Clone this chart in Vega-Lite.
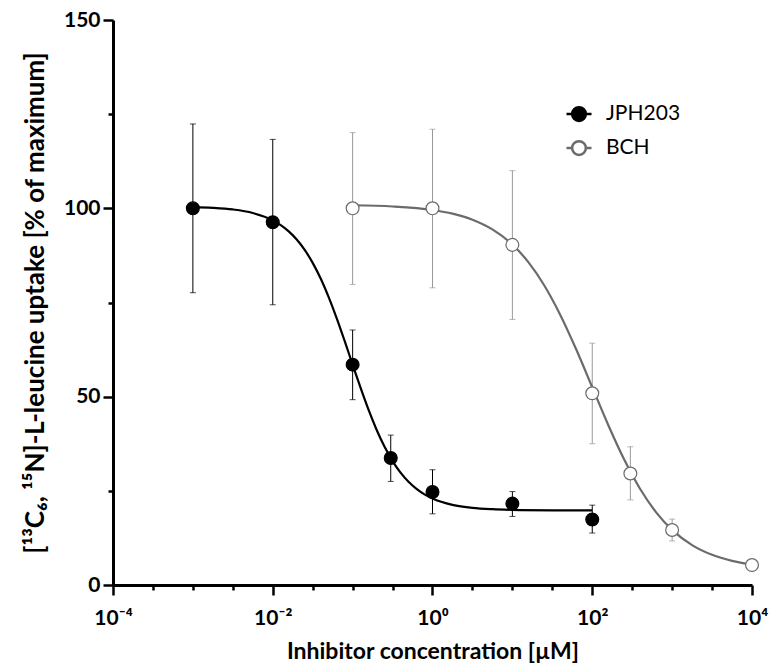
{
  "$schema": "https://vega.github.io/schema/vega-lite/v6.json",
  "width": 639,
  "height": 565,
  "autosize": "none",
  "padding": {"left": 113, "top": 20, "right": 19, "bottom": 83},
  "background": "white",
  "config": {"view": {"stroke": null}, "font": "Lato"},
  "datasets": {
    "pts": [
      {"series": "JPH203", "x": 0.001, "y": 100, "lo": 77.6, "hi": 122.4},
      {"series": "JPH203", "x": 0.01, "y": 96.3, "lo": 74.4, "hi": 118.3},
      {"series": "JPH203", "x": 0.1, "y": 58.5, "lo": 49.2, "hi": 67.7},
      {"series": "JPH203", "x": 0.3, "y": 33.7, "lo": 27.5, "hi": 39.8},
      {"series": "JPH203", "x": 1, "y": 24.7, "lo": 18.9, "hi": 30.6},
      {"series": "JPH203", "x": 10, "y": 21.6, "lo": 18.2, "hi": 24.8},
      {"series": "JPH203", "x": 100, "y": 17.4, "lo": 13.8, "hi": 21.2},
      {"series": "BCH", "x": 0.1, "y": 100, "lo": 79.8, "hi": 120.1},
      {"series": "BCH", "x": 1, "y": 100, "lo": 78.9, "hi": 121.0},
      {"series": "BCH", "x": 10, "y": 90.3, "lo": 70.5, "hi": 110.0},
      {"series": "BCH", "x": 100, "y": 50.9, "lo": 37.5, "hi": 64.2},
      {"series": "BCH", "x": 300, "y": 29.6, "lo": 22.6, "hi": 36.7},
      {"series": "BCH", "x": 1000, "y": 14.6, "lo": 11.7, "hi": 17.5},
      {"series": "BCH", "x": 10000, "y": 5.3, "lo": 5.3, "hi": 5.3}
    ],
    "fit": [
      {"series": "JPH203", "x": 0.001, "y": 100.33},
      {"series": "JPH203", "x": 0.001778, "y": 100.13},
      {"series": "JPH203", "x": 0.003162, "y": 99.70},
      {"series": "JPH203", "x": 0.005623, "y": 98.77},
      {"series": "JPH203", "x": 0.01, "y": 96.81},
      {"series": "JPH203", "x": 0.012589, "y": 95.54},
      {"series": "JPH203", "x": 0.015849, "y": 93.88},
      {"series": "JPH203", "x": 0.019953, "y": 91.71},
      {"series": "JPH203", "x": 0.025119, "y": 88.96},
      {"series": "JPH203", "x": 0.031623, "y": 85.52},
      {"series": "JPH203", "x": 0.039811, "y": 81.35},
      {"series": "JPH203", "x": 0.050119, "y": 76.41},
      {"series": "JPH203", "x": 0.063096, "y": 70.85},
      {"series": "JPH203", "x": 0.079433, "y": 64.79},
      {"series": "JPH203", "x": 0.1, "y": 58.52},
      {"series": "JPH203", "x": 0.125893, "y": 52.32},
      {"series": "JPH203", "x": 0.158489, "y": 46.48},
      {"series": "JPH203", "x": 0.199526, "y": 41.23},
      {"series": "JPH203", "x": 0.251189, "y": 36.69},
      {"series": "JPH203", "x": 0.316228, "y": 32.90},
      {"series": "JPH203", "x": 0.398107, "y": 29.82},
      {"series": "JPH203", "x": 0.501187, "y": 27.39},
      {"series": "JPH203", "x": 0.630957, "y": 25.50},
      {"series": "JPH203", "x": 0.794328, "y": 24.05},
      {"series": "JPH203", "x": 1, "y": 22.96},
      {"series": "JPH203", "x": 1.778279, "y": 21.28},
      {"series": "JPH203", "x": 3.162278, "y": 20.48},
      {"series": "JPH203", "x": 5.623413, "y": 20.12},
      {"series": "JPH203", "x": 10, "y": 19.95},
      {"series": "JPH203", "x": 31.622777, "y": 19.83},
      {"series": "JPH203", "x": 100, "y": 19.80},
      {"series": "BCH", "x": 0.1, "y": 100.82},
      {"series": "BCH", "x": 0.316228, "y": 100.49},
      {"series": "BCH", "x": 1, "y": 99.55},
      {"series": "BCH", "x": 1.778279, "y": 98.58},
      {"series": "BCH", "x": 3.162278, "y": 96.99},
      {"series": "BCH", "x": 5.623413, "y": 94.41},
      {"series": "BCH", "x": 10, "y": 90.38},
      {"series": "BCH", "x": 15.848932, "y": 85.71},
      {"series": "BCH", "x": 25.118864, "y": 79.52},
      {"series": "BCH", "x": 39.810717, "y": 71.71},
      {"series": "BCH", "x": 63.095734, "y": 62.52},
      {"series": "BCH", "x": 100, "y": 52.50},
      {"series": "BCH", "x": 158.489319, "y": 42.48},
      {"series": "BCH", "x": 251.188643, "y": 33.29},
      {"series": "BCH", "x": 398.107171, "y": 25.48},
      {"series": "BCH", "x": 630.957344, "y": 19.29},
      {"series": "BCH", "x": 1000, "y": 14.63},
      {"series": "BCH", "x": 1778.27941, "y": 10.59},
      {"series": "BCH", "x": 3162.27766, "y": 8.01},
      {"series": "BCH", "x": 5623.41325, "y": 6.42},
      {"series": "BCH", "x": 10000, "y": 5.45}
    ]
  },
  "layer": [
    {
      "data": {"name": "pts"},
      "mark": {"type": "rule", "strokeWidth": 1},
      "encoding": {
        "x": {
          "field": "x", "type": "quantitative",
          "scale": {"type": "log", "domain": [0.0001, 10000], "nice": false},
          "axis": {
            "title": "Inhibitor concentration [µM]",
            "values": [0.0001, 0.00031623, 0.001, 0.0031623, 0.01, 0.031623, 0.1, 0.31623, 1, 3.1623, 10, 31.623, 100, 316.23, 1000, 3162.3, 10000],
            "labelExpr": "abs(log(datum.value)/LN10/2 - round(log(datum.value)/LN10/2)) < 0.01 ? ('10' + (round(log(datum.value)/LN10) == -4 ? '⁻⁴' : round(log(datum.value)/LN10) == -2 ? '⁻²' : round(log(datum.value)/LN10) == 0 ? '⁰' : round(log(datum.value)/LN10) == 2 ? '²' : '⁴')) : ''",
            "grid": false,
            "domainColor": "black", "domainWidth": 3,
            "tickColor": "black", "tickWidth": 2.5,
            "tickSize": {"condition": {"test": "abs(log(datum.value)/LN10/2 - round(log(datum.value)/LN10/2)) < 0.01", "value": 10}, "value": 5},
            "labelFont": "Lato", "labelFontWeight": "bold", "labelFontSize": 21, "labelColor": "black",
            "labelPadding": 12, "labelFlush": false, "labelOverlap": false,
            "titleFont": "Lato", "titleFontWeight": "bold", "titleFontSize": 23, "titleColor": "black",
            "titlePadding": 12
          }
        },
        "y": {
          "field": "lo", "type": "quantitative",
          "scale": {"domain": [0, 150], "nice": false},
          "axis": {
            "title": "[¹³C₆, ¹⁵N]-L-leucine uptake [% of maximum]",
            "values": [0, 25, 50, 75, 100, 125, 150],
            "labelExpr": "datum.value % 50 == 0 ? datum.label : ''",
            "grid": false,
            "domainColor": "black", "domainWidth": 3,
            "tickColor": "black", "tickWidth": 2.5,
            "tickSize": {"condition": {"test": "datum.value % 50 == 0", "value": 10}, "value": 5},
            "labelFont": "Lato", "labelFontWeight": "bold", "labelFontSize": 21, "labelColor": "black",
            "labelPadding": 3, "labelFlush": false, "labelOverlap": false,
            "titleFont": "Lato", "titleFontWeight": "bold", "titleFontSize": 26, "titleColor": "black",
            "titlePadding": 15
          }
        },
        "y2": {"field": "hi"},
        "color": {"field": "series", "type": "nominal", "scale": {"domain": ["BCH", "JPH203"], "range": ["#999999", "#000000"]}, "legend": null}
      }
    },
    {
      "data": {"name": "pts"},
      "mark": {"type": "tick", "orient": "horizontal", "size": 6, "thickness": 1},
      "encoding": {
        "x": {"field": "x", "type": "quantitative"},
        "y": {"field": "lo", "type": "quantitative"},
        "color": {"field": "series", "type": "nominal", "legend": null}
      }
    },
    {
      "data": {"name": "pts"},
      "mark": {"type": "tick", "orient": "horizontal", "size": 6, "thickness": 1},
      "encoding": {
        "x": {"field": "x", "type": "quantitative"},
        "y": {"field": "hi", "type": "quantitative"},
        "color": {"field": "series", "type": "nominal", "legend": null}
      }
    },
    {
      "data": {"name": "fit"},
      "mark": {"type": "line", "interpolate": "monotone", "strokeWidth": 2.2},
      "encoding": {
        "x": {"field": "x", "type": "quantitative"},
        "y": {"field": "y", "type": "quantitative"},
        "stroke": {"field": "series", "type": "nominal"},
        "detail": {"field": "series", "type": "nominal"}
      }
    },
    {
      "data": {"name": "pts"},
      "mark": {"type": "point", "filled": true, "size": 165, "strokeWidth": 1.2, "opacity": 1},
      "encoding": {
        "x": {"field": "x", "type": "quantitative"},
        "y": {"field": "y", "type": "quantitative"},
        "fill": {
          "field": "series", "type": "nominal",
          "scale": {"domain": ["JPH203", "BCH"], "range": ["#000000", "#ffffff"]},
          "legend": {
            "title": null, "orient": "none", "legendX": 452, "legendY": 80,
            "symbolType": "M-1,0H-0.55M0.55,0H1M0.55,0A0.55,0.55,0,1,1,-0.55,0A0.55,0.55,0,1,1,0.55,0Z",
            "symbolSize": 625, "symbolStrokeWidth": 2.5,
            "labelFont": "Lato", "labelFontSize": 21, "labelColor": "black",
            "labelOffset": 13, "rowPadding": 8
          }
        },
        "stroke": {
          "field": "series", "type": "nominal",
          "scale": {"domain": ["JPH203", "BCH"], "range": ["#000000", "#6b6b6b"]},
          "legend": {
            "title": null, "orient": "none", "legendX": 452, "legendY": 80,
            "symbolType": "M-1,0H-0.55M0.55,0H1M0.55,0A0.55,0.55,0,1,1,-0.55,0A0.55,0.55,0,1,1,0.55,0Z",
            "symbolSize": 625, "symbolStrokeWidth": 2.5,
            "labelFont": "Lato", "labelFontSize": 21, "labelColor": "black",
            "labelOffset": 13, "rowPadding": 8
          }
        }
      }
    }
  ]
}
